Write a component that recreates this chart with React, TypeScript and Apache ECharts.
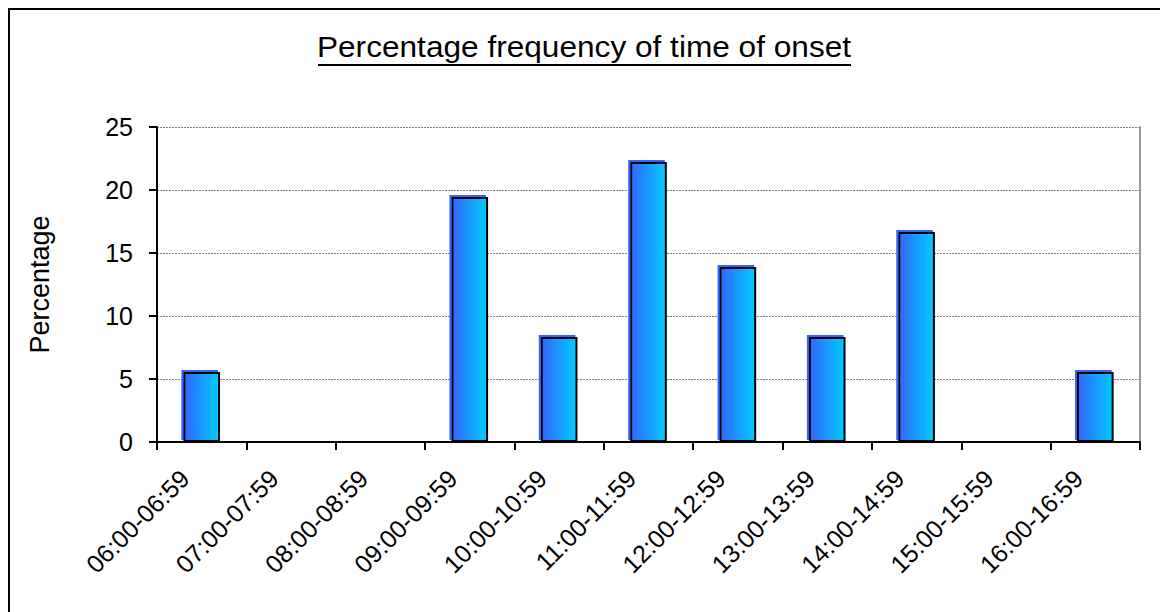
import React, { useEffect, useRef } from "react";
import * as echarts from "echarts";

const categories: string[] = [
  "06:00-06:59", "07:00-07:59", "08:00-08:59", "09:00-09:59", "10:00-10:59",
  "11:00-11:59", "12:00-12:59", "13:00-13:59", "14:00-14:59", "15:00-15:59", "16:00-16:59",
];
const percentages: number[] = [5.56, 0, 0, 19.44, 8.33, 22.22, 13.89, 8.33, 16.67, 0, 5.56];
const yTicks = { min: 0, max: 25, interval: 5 };
const titleText = "Percentage frequency of time of onset";
const yName = "Percentage";

const FONT = "'Liberation Sans', Arial, sans-serif";

export default function App() {
  const ref = useRef<HTMLDivElement>(null);
  useEffect(() => {
    if (!ref.current) return;
    const chart = echarts.init(ref.current, null, { renderer: "svg" });
    const gridLeft = 157, gridTop = 127, gridW = 983, gridH = 315;
    chart.setOption({
      animation: false,
      backgroundColor: "#ffffff",
      textStyle: { fontFamily: FONT },
      grid: { left: gridLeft, top: gridTop, width: gridW, height: gridH, show: false },
      xAxis: {
        type: "category",
        data: categories,
        boundaryGap: true,
        axisLine: { show: true, lineStyle: { color: "#000", width: 2 } },
        axisTick: { show: true, alignWithLabel: false, length: 8, lineStyle: { color: "#000", width: 2 } },
        axisLabel: {
          interval: 0,
          rotate: 45,
          margin: 15,
          formatter: (v: string) => "{t|" + v + "}",
          rich: { t: { padding: [0, 24, 0, 0], fontSize: 25, color: "#000", fontFamily: FONT } },
          fontSize: 25,
          color: "#000",
          fontFamily: FONT,
        },
        splitLine: { show: false },
      },
      yAxis: [
        {
          type: "value",
          min: yTicks.min,
          max: yTicks.max,
          interval: yTicks.interval,
          name: yName,
          nameLocation: "middle",
          nameGap: 104,
          nameTextStyle: { fontSize: 27, color: "#000", fontFamily: FONT },
          axisLine: { show: true, lineStyle: { color: "#000", width: 2 } },
          axisTick: { show: true, length: 8, lineStyle: { color: "#000", width: 2 } },
          axisLabel: { fontSize: 25, color: "#000", margin: 24, fontFamily: FONT },
          splitLine: { show: true, lineStyle: { color: "#808080", width: 1, type: [2, 1] } },
        },
        {
          type: "value",
          position: "right",
          min: yTicks.min,
          max: yTicks.max,
          interval: yTicks.interval,
          axisLine: { show: true, lineStyle: { color: "#999999", width: 2 } },
          axisTick: { show: false },
          axisLabel: { show: false },
          splitLine: { show: false },
        },
      ],
      series: [
        {
          type: "bar",
          data: percentages,
          barWidth: "41%",
          itemStyle: {
            color: new echarts.graphic.LinearGradient(0, 0, 1, 0, [
              { offset: 0, color: "#3366FF" },
              { offset: 1, color: "#00CCFF" },
            ]),
            borderColor: "#000",
            borderWidth: 2,
            shadowColor: "#3366FF",
            shadowBlur: 0,
            shadowOffsetX: -2,
            shadowOffsetY: -2,
          },
        },
      ],
      graphic: [
        {
          type: "rect",
          shape: { x: 9, y: 9, width: 1200, height: 700 },
          style: { fill: "none", stroke: "#000", lineWidth: 2 },
          silent: true,
        },
        {
          type: "text",
          x: 584,
          y: 47,
          scaleX: 1.09,
          style: {
            text: titleText,
            font: "29px 'Liberation Sans', Arial, sans-serif",
            fill: "#000",
            textAlign: "center",
            textVerticalAlign: "middle",
          },
          silent: true,
        },
        {
          type: "line",
          shape: { x1: 318, y1: 65, x2: 851, y2: 65 },
          style: { stroke: "#000", lineWidth: 2 },
          silent: true,
        },
      ],
    });
    return () => chart.dispose();
  }, []);
  return (
    <div
      ref={ref}
      style={{ position: "fixed", left: 0, top: 0, width: 1160, height: 612, background: "#fff" }}
    />
  );
}
